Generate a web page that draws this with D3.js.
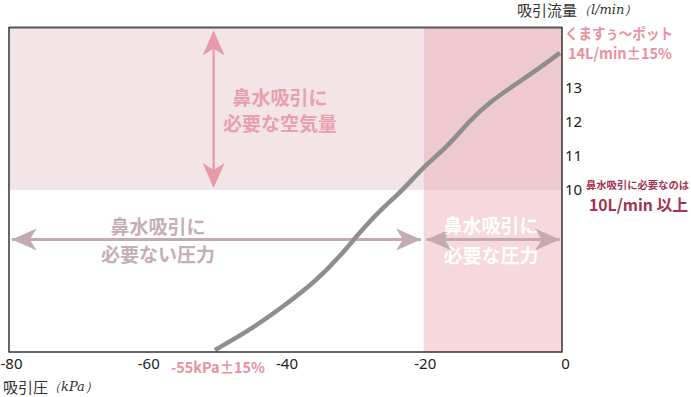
<!DOCTYPE html>
<html><head><meta charset="utf-8">
<script src="https://cdn.jsdelivr.net/npm/d3@7"></script>
<style>
html,body{margin:0;padding:0;background:#fff;}
svg{display:block;}
.jp{font-family:"Noto Sans CJK JP","Noto Sans",sans-serif;}
</style></head>
<body>
<svg id="c" width="691" height="397"></svg>
<script>
// ---- data ----
const pressure = [-50.2, -45.1, -40.4, -35.4, -32.1, -29.2, -26.3, -23.0, -20.1, -16.6, -13.3, -10.4, -7.1, -3.2, -0.3];
const flow     = [5.31, 5.90, 6.57, 7.36, 8.06, 8.77, 9.41, 10.0, 10.67, 11.26, 12.05, 12.58, 13.05, 13.58, 14.02];
const xTicks = [-80, -60, -40, -20, 0];
const yTicks = [10, 11, 12, 13];
const xDomain = [-80, 0];
const yDomain = [5.25, 14.75];
const pressureThreshold = -20;   // kPa needed
const flowThreshold = 10;        // L/min needed

const svg = d3.select("#c");
const x = d3.scaleLinear().domain(xDomain).range([9, 562]);
const y = d3.scaleLinear().domain(yDomain).range([352, 28]);

// background regions
const regions = [
  {x0: xDomain[0], x1: pressureThreshold, y0: flowThreshold, y1: yDomain[1], fill: "#f2e4e7"},
  {x0: pressureThreshold, x1: xDomain[1], y0: flowThreshold, y1: yDomain[1], fill: "#eec9ce"},
  {x0: pressureThreshold, x1: xDomain[1], y0: yDomain[0], y1: flowThreshold, fill: "#f6d8dd"}
];
svg.selectAll("rect.reg").data(regions).join("rect").attr("class","reg")
  .attr("x", d => x(d.x0)).attr("y", d => y(d.y1))
  .attr("width", d => x(d.x1) - x(d.x0)).attr("height", d => y(d.y0) - y(d.y1))
  .attr("fill", d => d.fill);

// arrow helper (barbed head)
function head(tx, ty, angle, color, L=25, h=11) {
  const p = `M0,0 L${L},${-h} L${L*0.72},0 L${L},${h} Z`;
  svg.append("path").attr("d", p).attr("fill", color)
    .attr("transform", `translate(${tx},${ty}) rotate(${angle})`);
}
// vertical arrow (air flow needed)
const vColor = "#e898a8";
const vx = x(-50.4);
svg.append("line").attr("x1", vx).attr("x2", vx).attr("y1", y(yDomain[1]) + 6).attr("y2", y(flowThreshold) - 6)
  .attr("stroke", vColor).attr("stroke-width", 2.2);
head(vx, y(yDomain[1]) + 2.5, 90, vColor);
head(vx, y(flowThreshold) - 2, -90, vColor);

// horizontal arrows
const hColor = "#c4aab3";
const hy = y(8.55);
svg.append("line").attr("x1", x(-79.6)).attr("x2", x(-20.4)).attr("y1", hy).attr("y2", hy)
  .attr("stroke", hColor).attr("stroke-width", 3);
head(x(-79.6), hy, 0, hColor);
head(x(-20.4), hy, 180, hColor);
svg.append("line").attr("x1", x(-19.6)).attr("x2", x(-0.3)).attr("y1", hy).attr("y2", hy)
  .attr("stroke", hColor).attr("stroke-width", 3);
head(x(-19.6), hy, 0, hColor);
head(x(-0.3), hy, 180, hColor);

// region labels
function label(lines, cx, ys, color, size) {
  lines.forEach((t, i) => {
    svg.append("text").attr("class","jp").attr("x", cx).attr("y", ys[i])
      .attr("text-anchor","middle").attr("dominant-baseline","central")
      .attr("font-size", size).attr("font-weight", 700).attr("fill", color).text(t);
  });
}
label(["鼻水吸引に","必要な空気量"], 280, [96, 122], "#e8a0ae", 19);
label(["鼻水吸引に","必要ない圧力"], 158, [225, 253], "#c5aeb6", 19);
label(["鼻水吸引に","必要な圧力"], 491, [224, 254], "#ffffff", 19);

// curve
const pts = pressure.map((p, i) => [p, flow[i]]);
svg.append("path").datum(pts)
  .attr("d", d3.line().x(d => x(d[0])).y(d => y(d[1])).curve(d3.curveBasis))
  .attr("fill","none").attr("stroke","#8e8e8e").attr("stroke-width",4.5).attr("stroke-linecap","butt");

// frame
svg.append("line").attr("x1", x(-80)).attr("x2", x(0)).attr("y1", 27.5).attr("y2", 27.5).attr("stroke","#555").attr("stroke-width",2);
svg.append("line").attr("x1", x(-80)).attr("x2", x(0)).attr("y1", 352).attr("y2", 352).attr("stroke","#333").attr("stroke-width",1.5);
svg.append("line").attr("x1", x(-80)).attr("x2", x(-80)).attr("y1", 27).attr("y2", 352.5).attr("stroke","#333").attr("stroke-width",1.5);
svg.append("line").attr("x1", x(0)).attr("x2", x(0)).attr("y1", 27).attr("y2", 352.5).attr("stroke","#333").attr("stroke-width",1.5);

// axes
const xa = svg.append("g").attr("transform","translate(0,352)")
  .call(d3.axisBottom(x).tickValues(xTicks).tickSize(0).tickPadding(6).tickFormat(d => String(d)));
xa.select(".domain").remove();
xa.selectAll("text").attr("font-family","'Noto Sans',sans-serif").attr("font-size",15).attr("fill","#222")
  .attr("dx", (d) => d === 0 ? 3 : (d === -80 ? 2 : 1));

const ya = svg.append("g").attr("transform",`translate(${x(0)},0)`)
  .call(d3.axisRight(y).tickValues(yTicks).tickSize(0).tickPadding(3));
ya.select(".domain").remove();
ya.selectAll("text").attr("font-family","'Noto Sans',sans-serif").attr("font-size",15).attr("fill","#222");

// annotations
function txt(t, xx, yy, size, color, weight, anchor="start", len=null) {
  const s = svg.append("text").attr("class", "jp").attr("x", xx).attr("y", yy)
    .attr("dominant-baseline","central").attr("text-anchor", anchor)
    .attr("font-size", size).attr("font-weight", weight).attr("fill", color).text(t);
  if (len) s.attr("textLength", len).attr("lengthAdjust", "spacingAndGlyphs");
  return s;
}
txt("吸引流量", 517, 9, 15, "#333", 400);
svg.append("text").attr("x", 578).attr("y", 9).attr("dominant-baseline","central")
  .attr("font-family","'DejaVu Serif',serif").attr("font-style","italic").attr("font-size",13).attr("fill","#333")
  .text("（l/min）");
txt("くますぅ〜ポット", 565, 32, 15, "#e9919f", 700, "start", 108);
txt("14L/min±15%", 568, 52, 15, "#e9919f", 700, "start", 104);
txt("鼻水吸引に必要なのは", 586, 184, 10.5, "#a3334f", 700, "start", 103);
txt("10L/min 以上", 589, 204, 16, "#a3334f", 700, "start", 99);
txt("-55kPa±15%", 171, 366, 15, "#e9919f", 700, "start", 94);
txt("吸引圧", 3, 386, 15, "#333", 400);
svg.append("text").attr("x", 48).attr("y", 386).attr("dominant-baseline","central")
  .attr("font-family","'DejaVu Serif',serif").attr("font-style","italic").attr("font-size",13).attr("fill","#333")
  .text("（kPa）");
</script>
</body></html>
